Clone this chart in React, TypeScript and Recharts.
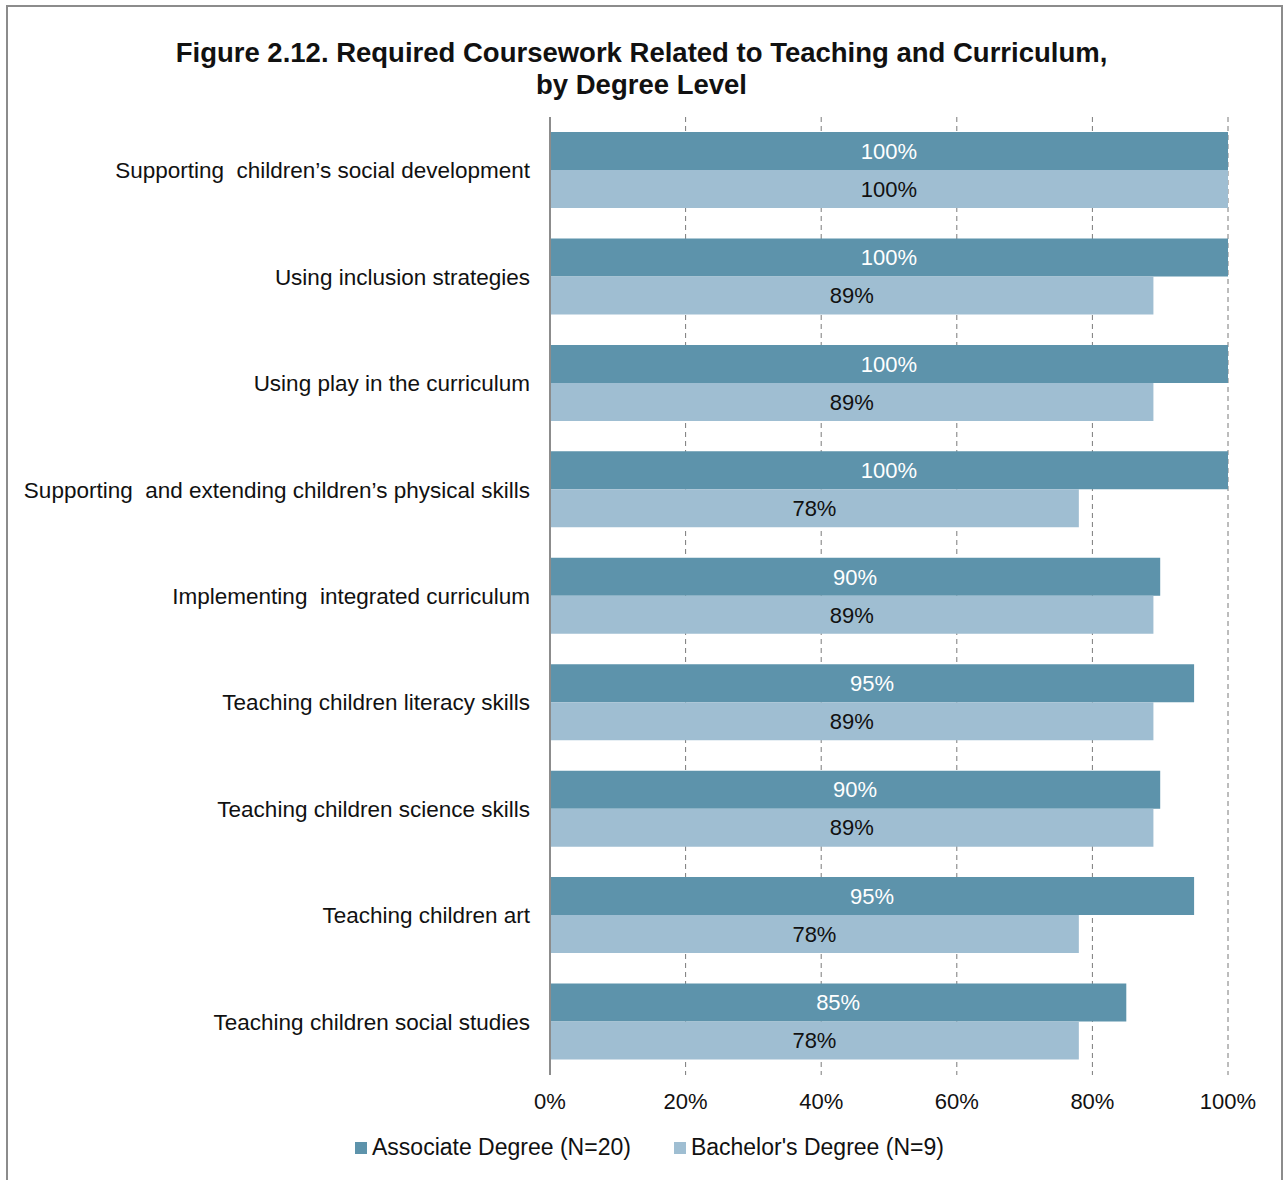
import React from 'react';
import {
  Bar,
  BarChart,
  CartesianGrid,
  LabelList,
  XAxis,
  YAxis,
} from 'recharts';

// Shares are fractions of programs requiring the coursework.
const CATEGORIES = [
  'Supporting  children’s social development',
  'Using inclusion strategies',
  'Using play in the curriculum',
  'Supporting  and extending children’s physical skills',
  'Implementing  integrated curriculum',
  'Teaching children literacy skills',
  'Teaching children science skills',
  'Teaching children art',
  'Teaching children social studies',
];
const ASSOCIATE = [1.0, 1.0, 1.0, 1.0, 0.9, 0.95, 0.9, 0.95, 0.85];
const BACHELOR = [1.0, 0.89, 0.89, 0.78, 0.89, 0.89, 0.89, 0.78, 0.78];
const X_TICKS = [0, 0.2, 0.4, 0.6, 0.8, 1.0];

const SERIES = [
  { key: 'associate', name: 'Associate Degree (N=20)', color: '#5d93ab', label: '#ffffff' },
  { key: 'bachelor', name: "Bachelor's Degree (N=9)", color: '#9fbed2', label: '#111111' },
];

const FONT = 'Arial, "Liberation Sans", sans-serif';
const AXIS = '#8c8c8c';

const data = CATEGORIES.map((name, i) => ({
  name,
  associate: ASSOCIATE[i],
  bachelor: BACHELOR[i],
}));

const pct = (v: number) => `${Math.round(v * 100)}%`;

// category tick that keeps the doubled spaces of the original labels
function CategoryTick(props: any) {
  const { x, y, payload } = props;
  return (
    <text
      x={x}
      y={y}
      dy="0.355em"
      textAnchor="end"
      fontSize={22.5}
      fill="#111"
      fontFamily={FONT}
      style={{ whiteSpace: 'pre' }}
    >
      {payload.value}
    </text>
  );
}

function LegendRow() {
  return (
    <div
      style={{
        position: 'absolute',
        left: 355,
        top: 1134,
        display: 'flex',
        gap: 43,
        fontSize: 23,
        color: '#111',
        fontFamily: FONT,
      }}
    >
      {SERIES.map((s) => (
        <div key={s.key} style={{ display: 'flex', alignItems: 'center' }}>
          <span style={{ width: 12, height: 12, background: s.color, marginRight: 5, display: 'inline-block' }} />
          {s.name}
        </div>
      ))}
    </div>
  );
}

export default function App() {
  return (
    <div style={{ position: 'absolute', left: 0, top: 0, width: 1283, height: 1180, background: '#fff', fontFamily: FONT, overflow: 'hidden' }}>
      <div
        style={{
          position: 'absolute',
          left: 6,
          top: 5,
          width: 1277,
          height: 1200,
          border: '2px solid #8c8c8c',
          boxSizing: 'border-box',
        }}
      />
      <div
        style={{
          position: 'absolute',
          top: 37,
          left: 0,
          width: 1283,
          textAlign: 'center',
          fontWeight: 'bold',
          fontSize: 27.5,
          lineHeight: '32px',
          color: '#111',
        }}
      >
        Figure 2.12. Required Coursework Related to Teaching and Curriculum,
        <br />
        by Degree Level
      </div>
      <BarChart
        width={1283}
        height={1180}
        data={data}
        layout="vertical"
        margin={{ top: 117, right: 55, bottom: 75, left: 10 }}
        barSize={38}
        barGap={0}
        style={{ position: 'absolute', left: 0, top: 0 }}
      >
        <CartesianGrid horizontal={false} stroke="#7a7a7a" strokeDasharray="5 4" />
        <XAxis
          type="number"
          domain={[0, 1]}
          ticks={X_TICKS}
          tickFormatter={pct}
          axisLine={false}
          tickLine={false}
          tickMargin={12}
          tick={{ fontSize: 22, fill: '#111', fontFamily: FONT }}
        />
        <YAxis
          type="category"
          dataKey="name"
          width={540}
          axisLine={{ stroke: AXIS, strokeWidth: 2 }}
          tickLine={false}
          tickMargin={14}
          tick={<CategoryTick />}
        />
        {SERIES.map((s) => (
          <Bar key={s.key} dataKey={s.key} name={s.name} fill={s.color} isAnimationActive={false}>
            <LabelList
              dataKey={s.key}
              position="center"
              formatter={(v: any) => pct(Number(v))}
              fill={s.label}
              style={{ fontSize: 22, fontFamily: FONT }}
            />
          </Bar>
        ))}
      </BarChart>
      <LegendRow />
    </div>
  );
}
